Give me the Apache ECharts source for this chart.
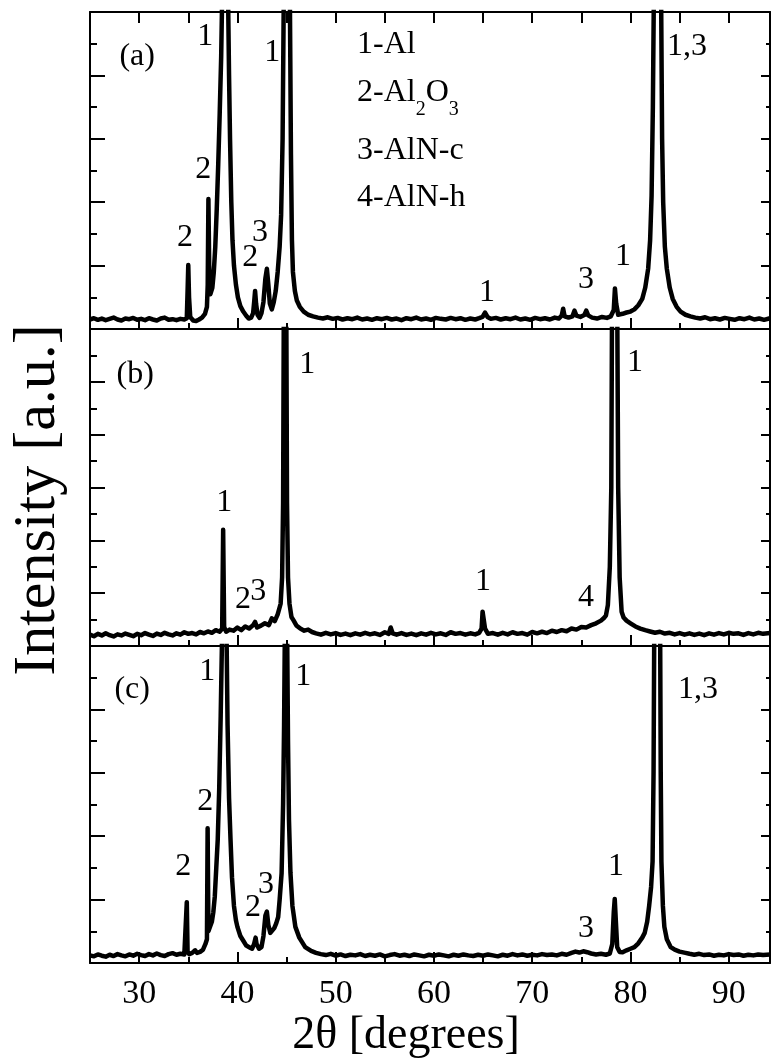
<!DOCTYPE html>
<html>
<head>
<meta charset="utf-8">
<script src="https://cdn.jsdelivr.net/npm/echarts@6/dist/echarts.min.js"></script>
<style>
  html, body { margin: 0; background: #fff; }
  #chart { width: 772px; height: 1059px; }
</style>
</head>
<body>
<div id="chart"></div>
<script>
// x range (2theta, degrees)
const xMin = 25
const xMax = 94.2
const xMajorTicks = [30, 40, 50, 60, 70, 80, 90]
const xMinorTicks = [35, 45, 55, 65, 75, 85]
const xTopTicks = [30, 35, 40, 45, 50, 55, 60, 65, 70, 75, 80, 85, 90]

// y ranges of the three panels (arbitrary units)
const yMaxA = 10
const yMaxB = 12
const yMaxC = 10

// panel (a) pattern [2theta, intensity]
const patternA = [
  [25.0,0.30],[25.4,0.34],[25.8,0.29],[26.2,0.33],[26.6,0.28],[27.0,0.32],[27.4,0.36],[27.8,0.30],
  [28.2,0.27],[28.6,0.33],[29.0,0.31],[29.4,0.35],[29.8,0.29],[30.2,0.32],[30.6,0.28],[31.0,0.34],
  [31.4,0.30],[31.8,0.27],[32.2,0.33],[32.6,0.36],[33.0,0.29],[33.4,0.31],[33.8,0.28],[34.2,0.32],
  [34.6,0.30],[34.85,0.34],[34.93,1.2],[35.0,2.02],[35.08,1.0],[35.2,0.38],[35.5,0.27],[35.8,0.25],
  [36.1,0.30],[36.4,0.36],[36.7,0.48],[36.9,0.70],[36.98,1.4],[37.05,4.1],[37.13,2.0],[37.25,1.1],
  [37.45,1.3],[37.6,1.8],[37.75,2.6],[37.9,3.8],[38.05,5.2],[38.2,6.8],[38.35,8.6],[38.45,10.5],
  [38.6,25],[38.75,60],[38.9,25],[39.05,10.5],[39.15,8],[39.25,6],[39.38,4],[39.5,2.8],
  [39.65,2.0],[39.85,1.4],[40.05,1.0],[40.3,0.72],[40.6,0.55],[40.9,0.42],[41.15,0.33],[41.4,0.36],
  [41.6,0.5],[41.72,0.9],[41.8,1.2],[41.9,0.8],[42.05,0.45],[42.25,0.35],[42.45,0.5],[42.65,0.85],
  [42.85,1.6],[43.0,1.9],[43.15,1.4],[43.3,0.8],[43.5,0.62],[43.7,0.85],[43.9,1.2],[44.1,1.8],
  [44.3,2.6],[44.45,3.6],[44.6,6],[44.72,10.5],[44.87,30],[45.03,60],[45.18,30],[45.34,10.5],
  [45.45,5.5],[45.55,2.8],[45.65,1.8],[45.85,1.2],[46.05,0.9],[46.35,0.7],[46.75,0.55],[47.2,0.45],
  [47.7,0.40],[48.2,0.36],[48.7,0.33],[49.2,0.37],[49.7,0.32],[50.2,0.35],[50.7,0.30],[51.2,0.34],
  [51.7,0.31],[52.2,0.36],[52.7,0.30],[53.2,0.33],[53.7,0.29],[54.2,0.34],[54.7,0.31],[55.2,0.35],
  [55.7,0.30],[56.2,0.33],[56.7,0.28],[57.2,0.34],[57.7,0.31],[58.2,0.36],[58.7,0.30],[59.2,0.33],
  [59.7,0.29],[60.2,0.35],[60.7,0.32],[61.2,0.30],[61.7,0.35],[62.2,0.31],[62.7,0.34],[63.2,0.29],
  [63.7,0.33],[64.2,0.30],[64.6,0.34],[64.95,0.38],[65.2,0.52],[65.45,0.38],[65.8,0.32],[66.3,0.35],
  [66.8,0.30],[67.3,0.34],[67.8,0.31],[68.3,0.36],[68.8,0.30],[69.3,0.33],[69.8,0.29],[70.3,0.35],
  [70.8,0.31],[71.3,0.34],[71.8,0.30],[72.3,0.36],[72.7,0.33],[73.0,0.42],[73.15,0.64],[73.3,0.40],
  [73.7,0.36],[74.1,0.40],[74.3,0.58],[74.5,0.42],[74.9,0.38],[75.3,0.44],[75.5,0.58],[75.7,0.43],
  [76.1,0.36],[76.6,0.33],[77.1,0.38],[77.6,0.35],[78.0,0.40],[78.3,0.60],[78.42,1.28],[78.55,0.8],
  [78.75,0.45],[79.2,0.48],[79.6,0.52],[80.0,0.55],[80.4,0.62],[80.8,0.75],[81.2,0.95],[81.5,1.3],
  [81.8,1.9],[82.0,2.8],[82.15,4.2],[82.28,7],[82.38,10.5],[82.55,30],[82.75,60],[82.95,30],
  [83.12,10.5],[83.22,6],[83.33,4.0],[83.5,2.6],[83.7,1.9],[84.0,1.3],[84.3,0.95],[84.7,0.7],
  [85.1,0.55],[85.6,0.45],[86.1,0.40],[86.6,0.36],[87.1,0.33],[87.6,0.37],[88.1,0.31],[88.6,0.34],
  [89.1,0.30],[89.6,0.35],[90.1,0.32],[90.6,0.29],[91.1,0.34],[91.6,0.31],[92.1,0.36],[92.6,0.30],
  [93.1,0.33],[93.6,0.29],[94.2,0.34]
]

// panel (b) pattern
const patternB = [
  [25.0,0.43],[25.4,0.37],[25.8,0.46],[26.2,0.40],[26.6,0.48],[27.0,0.41],[27.4,0.36],[27.8,0.44],
  [28.2,0.40],[28.6,0.47],[29.0,0.42],[29.4,0.37],[29.8,0.46],[30.2,0.41],[30.6,0.49],[31.0,0.43],
  [31.4,0.38],[31.8,0.47],[32.2,0.42],[32.6,0.50],[33.0,0.44],[33.4,0.40],[33.8,0.48],[34.2,0.43],
  [34.6,0.52],[35.0,0.46],[35.4,0.49],[35.8,0.44],[36.2,0.53],[36.6,0.48],[37.0,0.55],[37.4,0.50],
  [37.8,0.60],[38.2,0.54],[38.45,0.66],[38.55,4.4],[38.65,0.72],[38.85,0.54],[39.2,0.62],[39.6,0.58],
  [40.0,0.70],[40.4,0.60],[40.8,0.74],[41.2,0.66],[41.6,0.79],[41.8,0.91],[42.0,0.70],[42.4,0.77],
  [42.8,0.86],[43.2,0.79],[43.5,1.05],[43.8,0.94],[44.1,1.2],[44.4,1.6],[44.55,2.6],[44.65,5.4],
  [44.72,12.5],[44.85,70],[44.98,12.5],[45.05,5.4],[45.15,2.6],[45.3,1.6],[45.5,1.1],[45.7,0.98],
  [46.0,0.78],[46.4,0.66],[46.8,0.58],[47.2,0.62],[47.6,0.53],[48.0,0.48],[48.5,0.43],[49.0,0.50],
  [49.5,0.44],[50.0,0.49],[50.5,0.42],[51.0,0.47],[51.5,0.41],[52.0,0.48],[52.5,0.43],[53.0,0.50],
  [53.5,0.44],[54.0,0.48],[54.5,0.42],[55.0,0.52],[55.4,0.46],[55.6,0.70],[55.8,0.48],[56.2,0.43],
  [56.7,0.49],[57.2,0.42],[57.7,0.47],[58.2,0.41],[58.7,0.48],[59.2,0.43],[59.7,0.50],[60.2,0.44],
  [60.7,0.48],[61.2,0.42],[61.7,0.52],[62.2,0.46],[62.7,0.49],[63.2,0.43],[63.7,0.48],[64.2,0.44],
  [64.6,0.50],[64.85,0.66],[64.95,1.3],[65.1,1.25],[65.2,0.66],[65.5,0.46],[66.0,0.49],[66.5,0.43],
  [67.0,0.50],[67.5,0.44],[68.0,0.52],[68.5,0.46],[69.0,0.49],[69.5,0.43],[70.0,0.53],[70.5,0.48],
  [71.0,0.54],[71.5,0.49],[72.0,0.58],[72.5,0.53],[73.0,0.60],[73.5,0.56],[74.0,0.66],[74.5,0.62],
  [75.0,0.72],[75.5,0.70],[76.0,0.79],[76.5,0.86],[77.0,0.96],[77.3,1.06],[77.5,1.15],[77.7,1.55],
  [77.9,3.0],[78.05,6],[78.12,12.5],[78.39,70],[78.66,12.5],[78.75,6],[78.9,2.6],[79.1,1.3],
  [79.3,1.08],[79.6,0.96],[80.0,0.86],[80.5,0.74],[81.0,0.66],[81.5,0.60],[82.0,0.55],[82.5,0.50],
  [83.0,0.54],[83.5,0.47],[84.0,0.50],[84.5,0.44],[85.0,0.49],[85.5,0.43],[86.0,0.48],[86.5,0.42],
  [87.0,0.47],[87.5,0.41],[88.0,0.48],[88.5,0.43],[89.0,0.49],[89.5,0.44],[90.0,0.50],[90.5,0.46],
  [91.0,0.48],[91.5,0.42],[92.0,0.49],[92.5,0.44],[93.0,0.50],[93.5,0.46],[94.2,0.49]
]

// panel (c) pattern
const patternC = [
  [25.0,0.24],[25.4,0.21],[25.8,0.27],[26.2,0.23],[26.6,0.20],[27.0,0.26],[27.4,0.22],[27.8,0.28],
  [28.2,0.24],[28.6,0.21],[29.0,0.27],[29.4,0.23],[29.8,0.29],[30.2,0.25],[30.6,0.22],[31.0,0.28],
  [31.4,0.24],[31.8,0.30],[32.2,0.25],[32.6,0.22],[33.0,0.28],[33.4,0.31],[33.8,0.26],[34.2,0.29],
  [34.6,0.27],[34.77,0.3],[34.85,1.92],[34.93,0.35],[35.1,0.28],[35.4,0.32],[35.7,0.4],[35.9,0.32],
  [36.2,0.35],[36.5,0.42],[36.75,0.6],[36.9,0.75],[36.97,4.25],[37.05,1.0],[37.2,1.05],[37.4,1.3],
  [37.55,1.6],[37.7,2.1],[37.85,3.0],[38.0,3.9],[38.15,5.5],[38.3,7.8],[38.45,10.5],[38.55,30],
  [38.67,60],[38.79,30],[38.89,10.5],[39.0,7.5],[39.15,5.2],[39.3,3.9],[39.45,2.7],[39.65,1.8],
  [39.85,1.35],[40.0,1.14],[40.3,0.85],[40.6,0.7],[40.9,0.55],[41.2,0.5],[41.5,0.45],[41.7,0.6],
  [41.85,0.8],[41.95,0.6],[42.2,0.45],[42.45,0.5],[42.65,0.85],[42.85,1.5],[43.0,1.62],[43.15,1.2],
  [43.35,0.95],[43.55,0.95],[43.75,1.1],[43.95,1.25],[44.15,1.45],[44.3,2.0],[44.5,2.84],[44.65,5],
  [44.75,7.5],[44.83,10.5],[44.9,30],[44.95,60],[45.0,30],[45.06,10.5],[45.15,7],[45.25,4.5],
  [45.4,2.84],[45.6,1.8],[45.9,1.14],[46.3,0.8],[46.9,0.5],[47.5,0.38],[48.0,0.32],[48.5,0.28],
  [49.0,0.25],[49.5,0.29],[50.0,0.23],[50.5,0.27],[51.0,0.22],[51.5,0.26],[52.0,0.24],[52.5,0.28],
  [53.0,0.22],[53.5,0.26],[54.0,0.23],[54.5,0.27],[55.0,0.21],[55.5,0.25],[56.0,0.28],[56.5,0.23],
  [57.0,0.26],[57.5,0.22],[58.0,0.27],[58.5,0.24],[59.0,0.21],[59.5,0.26],[60.0,0.23],[60.5,0.27],
  [61.0,0.24],[61.5,0.21],[62.0,0.26],[62.5,0.23],[63.0,0.27],[63.5,0.24],[64.0,0.22],[64.5,0.26],
  [65.0,0.23],[65.5,0.27],[66.0,0.24],[66.5,0.21],[67.0,0.26],[67.5,0.23],[68.0,0.28],[68.5,0.24],
  [69.0,0.27],[69.5,0.23],[70.0,0.26],[70.5,0.24],[71.0,0.28],[71.5,0.25],[72.0,0.27],[72.5,0.24],
  [73.0,0.29],[73.5,0.26],[74.0,0.32],[74.4,0.36],[74.8,0.33],[75.2,0.37],[75.6,0.34],[76.0,0.30],
  [76.5,0.27],[77.0,0.29],[77.5,0.26],[77.9,0.3],[78.15,0.6],[78.3,1.6],[78.4,2.02],[78.5,1.4],
  [78.65,0.5],[78.9,0.35],[79.2,0.34],[79.6,0.40],[80.0,0.45],[80.4,0.5],[80.8,0.62],[81.2,0.8],
  [81.45,0.95],[81.7,1.3],[81.9,1.8],[82.1,2.4],[82.25,3.2],[82.35,6],[82.42,10.5],[82.55,30],
  [82.72,60],[82.9,30],[83.02,10.5],[83.08,6],[83.15,3.2],[83.3,1.8],[83.45,1.14],[83.7,0.75],
  [84.1,0.5],[84.5,0.42],[85.0,0.36],[85.6,0.32],[86.0,0.29],[86.5,0.26],[87.0,0.29],[87.5,0.25],
  [88.0,0.27],[88.5,0.23],[89.0,0.26],[89.5,0.24],[90.0,0.28],[90.5,0.25],[91.0,0.27],[91.5,0.23],
  [92.0,0.26],[92.5,0.24],[93.0,0.27],[93.5,0.25],[94.2,0.27]
]

// peak annotations [2theta, intensity, text]
const labelsA = [
  [29.8, 8.58, '(a)'], [36.72, 9.23, '1'], [36.52, 5.02, '2'], [34.68, 2.87, '2'],
  [41.3, 2.24, '2'], [42.31, 3.03, '3'], [43.54, 8.71, '1'], [65.41, 1.14, '1'],
  [75.48, 1.55, '3'], [79.24, 2.27, '1'], [85.75, 8.9, '1,3']
]
const labelsB = [
  [29.6, 10.27, '(b)'], [47.1, 10.64, '1'], [38.65, 5.42, '1'], [40.58, 1.74, '2'],
  [42.11, 2.05, '3'], [65.0, 2.42, '1'], [75.48, 1.82, '4'], [80.47, 10.72, '1']
]
const labelsC = [
  [29.29, 8.61, '(c)'], [36.92, 9.18, '1'], [46.69, 9.02, '1'], [36.72, 5.08, '2'],
  [34.48, 3.03, '2'], [41.6, 1.74, '2'], [42.92, 2.46, '3'], [75.48, 1.1, '3'],
  [78.53, 3.03, '1'], [86.87, 8.61, '1,3']
]
// phase key, drawn in panel (a)
const phaseKey = [
  [52.18, 8.96, '1-Al'],
  [52.18, 7.27, '{m|2-Al}{s|2}{m|O}{s|3}'],
  [52.18, 5.62, '3-AlN-c'],
  [52.18, 4.13, '4-AlN-h']
]

const FONT = '"Liberation Serif", "DejaVu Serif", serif'
const panels = [
  { top: 12, yMax: yMaxA, data: patternA, labels: labelsA },
  { top: 329, yMax: yMaxB, data: patternB, labels: labelsB },
  { top: 646, yMax: yMaxC, data: patternC, labels: labelsC }
]

const chart = echarts.init(document.getElementById('chart'), null, { renderer: 'canvas' })

const grids = []
const xAxes = []
const yAxes = []
const series = []
const black = { color: '#000', width: 2 }

panels.forEach((p, i) => {
  grids.push({ left: 90, right: 2, top: p.top, height: 317 })
  const last = i === panels.length - 1
  // bottom axis, 10 degree ticks (labels only under the last panel)
  xAxes.push({
    type: 'value', gridIndex: i, position: 'bottom', min: xMin, max: xMax,
    axisLine: { show: true, onZero: false, lineStyle: black },
    axisTick: { show: true, inside: true, length: 11, customValues: xMajorTicks, lineStyle: black },
    axisLabel: {
      show: last, customValues: xMajorTicks, margin: 14,
      fontSize: 34, fontFamily: FONT, color: '#000'
    },
    splitLine: { show: false }
  })
  // bottom axis, 5 degree ticks
  xAxes.push({
    type: 'value', gridIndex: i, position: 'bottom', min: xMin, max: xMax,
    axisLine: { show: false, onZero: false },
    axisTick: { show: true, inside: true, length: 6, customValues: xMinorTicks, lineStyle: black },
    axisLabel: { show: false },
    splitLine: { show: false }
  })
  // top frame (ticks only on the first panel)
  xAxes.push({
    type: 'value', gridIndex: i, position: 'top', min: xMin, max: xMax,
    axisLine: { show: true, onZero: false, lineStyle: black },
    axisTick: { show: i === 0, inside: true, length: 11, customValues: xTopTicks, lineStyle: black },
    axisLabel: { show: false },
    splitLine: { show: false }
  })
  yAxes.push({
    type: 'value', gridIndex: i, position: 'left', min: 0, max: p.yMax, interval: 2,
    axisLine: { show: true, onZero: false, lineStyle: black },
    axisTick: { show: true, inside: true, length: 15, lineStyle: black },
    minorTick: { show: true, splitNumber: 2, length: 7, lineStyle: black },
    axisLabel: { show: false },
    splitLine: { show: false }
  })
  yAxes.push({
    type: 'value', gridIndex: i, position: 'right', min: 0, max: p.yMax, interval: 2,
    axisLine: { show: true, onZero: false, lineStyle: black },
    axisTick: { show: true, inside: true, length: 9, lineStyle: black },
    minorTick: { show: true, splitNumber: 2, length: 4, lineStyle: black },
    axisLabel: { show: false },
    splitLine: { show: false }
  })

  series.push({
    type: 'line', xAxisIndex: 3 * i, yAxisIndex: 2 * i,
    data: p.data, symbol: 'none', clip: true,
    lineStyle: { color: '#000', width: 4.5, join: 'round' },
    z: 2
  })

  let marks = p.labels.map(l => ({ value: [l[0], l[1]], name: l[2] }))
  if (i === 0) {
    marks = marks.concat(phaseKey.map(l => ({
      value: [l[0], l[1]], name: l[2], label: { align: 'left' }
    })))
  }
  series.push({
    type: 'scatter', xAxisIndex: 3 * i, yAxisIndex: 2 * i,
    data: marks, symbolSize: 1,
    itemStyle: { color: 'rgba(0,0,0,0)', opacity: 1 },
    label: {
      show: true, position: 'inside', formatter: d => d.name, opacity: 1,
      fontSize: 32, fontFamily: FONT, color: '#000', textBorderWidth: 0,
      rich: {
        m: { fontSize: 32, fontFamily: FONT, color: '#000', verticalAlign: 'bottom', padding: [0, 0, 11, 0] },
        s: { fontSize: 20, fontFamily: FONT, color: '#000', verticalAlign: 'bottom' }
      }
    },
    emphasis: { disabled: true },
    z: 3
  })
})

chart.setOption({
  animation: false,
  backgroundColor: '#fff',
  grid: grids,
  xAxis: xAxes,
  yAxis: yAxes,
  series: series,
  graphic: [
    {
      type: 'text', x: 38, y: 500, rotation: Math.PI / 2,
      style: {
        text: 'Intensity [a.u.]', fill: '#000',
        font: '60px "Liberation Serif", serif',
        textAlign: 'center', textVerticalAlign: 'middle'
      }
    },
    {
      type: 'text', x: 406, y: 1036,
      style: {
        text: '2θ [degrees]', fill: '#000',
        font: '46px "Liberation Serif", serif',
        textAlign: 'center', textVerticalAlign: 'middle'
      }
    }
  ]
})
</script>
</body>
</html>
